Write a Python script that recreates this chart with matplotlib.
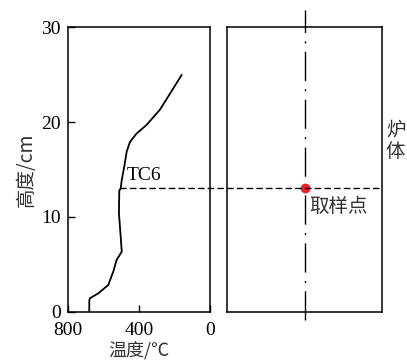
import matplotlib.pyplot as plt
from matplotlib.patches import ConnectionPatch

plt.rcParams['font.family'] = ['Liberation Serif', 'Noto Sans CJK SC']

# temperature profile along furnace height
temp = [680, 680, 676, 629, 573, 545, 526, 497, 503, 513, 511, 503, 497, 483, 469,
        451, 413, 357, 282, 225, 160]
height = [0, 1.2, 1.44, 1.96, 2.84, 4.24, 5.47, 6.35, 7.9, 10.4, 12.8, 13.0, 13.9,
          15.3, 16.9, 17.9, 18.8, 19.7, 21.3, 23.0, 24.95]

tc6_temp = 503
tc6_height = 13
x_ticks = [800, 400, 0]
y_ticks = [0, 10, 20, 30]

fig = plt.figure(figsize=(4.07, 3.61), dpi=100)
ax1 = fig.add_axes([0.167, 0.136, 0.349, 0.789])
ax2 = fig.add_axes([0.558, 0.136, 0.381, 0.789])

ax1.plot(temp, height, color='black', lw=1.3)
ax1.set_xlim(800, 0)
ax1.set_ylim(0, 30)
ax1.set_xticks(x_ticks)
ax1.set_yticks(y_ticks)
ax1.tick_params(direction='in', length=5, labelsize=14, width=1, pad=5)
ax1.tick_params(axis='x', pad=7.5)
ax1.set_xlabel('温度/℃', fontsize=13, family=['Noto Sans CJK SC'], color='#333333', labelpad=1)
ax1.set_ylabel('高度/cm', fontsize=14, family=['Noto Sans CJK SC', 'Liberation Serif'], color='#333333', labelpad=3)
ax1.text(468, 13.5, 'TC6', fontsize=14, ha='left', va='bottom')

for ax in (ax1, ax2):
    for s in ax.spines.values():
        s.set_linewidth(1.1)

ax2.set_xlim(0, 1)
ax2.set_ylim(0, 30)
ax2.set_xticks([])
ax2.set_yticks([])

# furnace center line
ax2.plot([0.5, 0.5], [-0.85, 31.8], color='black', lw=1, clip_on=False,
         dashes=(21, 6, 1.5, 6))
ax2.plot(0.5, tc6_height, 'o', color='#ee1c25', ms=6, zorder=5)
ax2.text(0.53, tc6_height - 0.8, '取样点', fontsize=14, ha='left', va='top',
         family=['Noto Sans CJK SC'], color='#333333')
fig.text(0.948, 0.61, '炉\n体', fontsize=14, ha='left', va='center',
         family=['Noto Sans CJK SC'], color='#333333', linespacing=1.0)

con = ConnectionPatch(xyA=(tc6_temp, tc6_height), coordsA=ax1.transData,
                      xyB=(1, tc6_height), coordsB=ax2.get_yaxis_transform(),
                      color='black', lw=1, linestyle=(0, (4, 3)))
fig.add_artist(con)

plt.savefig('out.png', dpi=100)
